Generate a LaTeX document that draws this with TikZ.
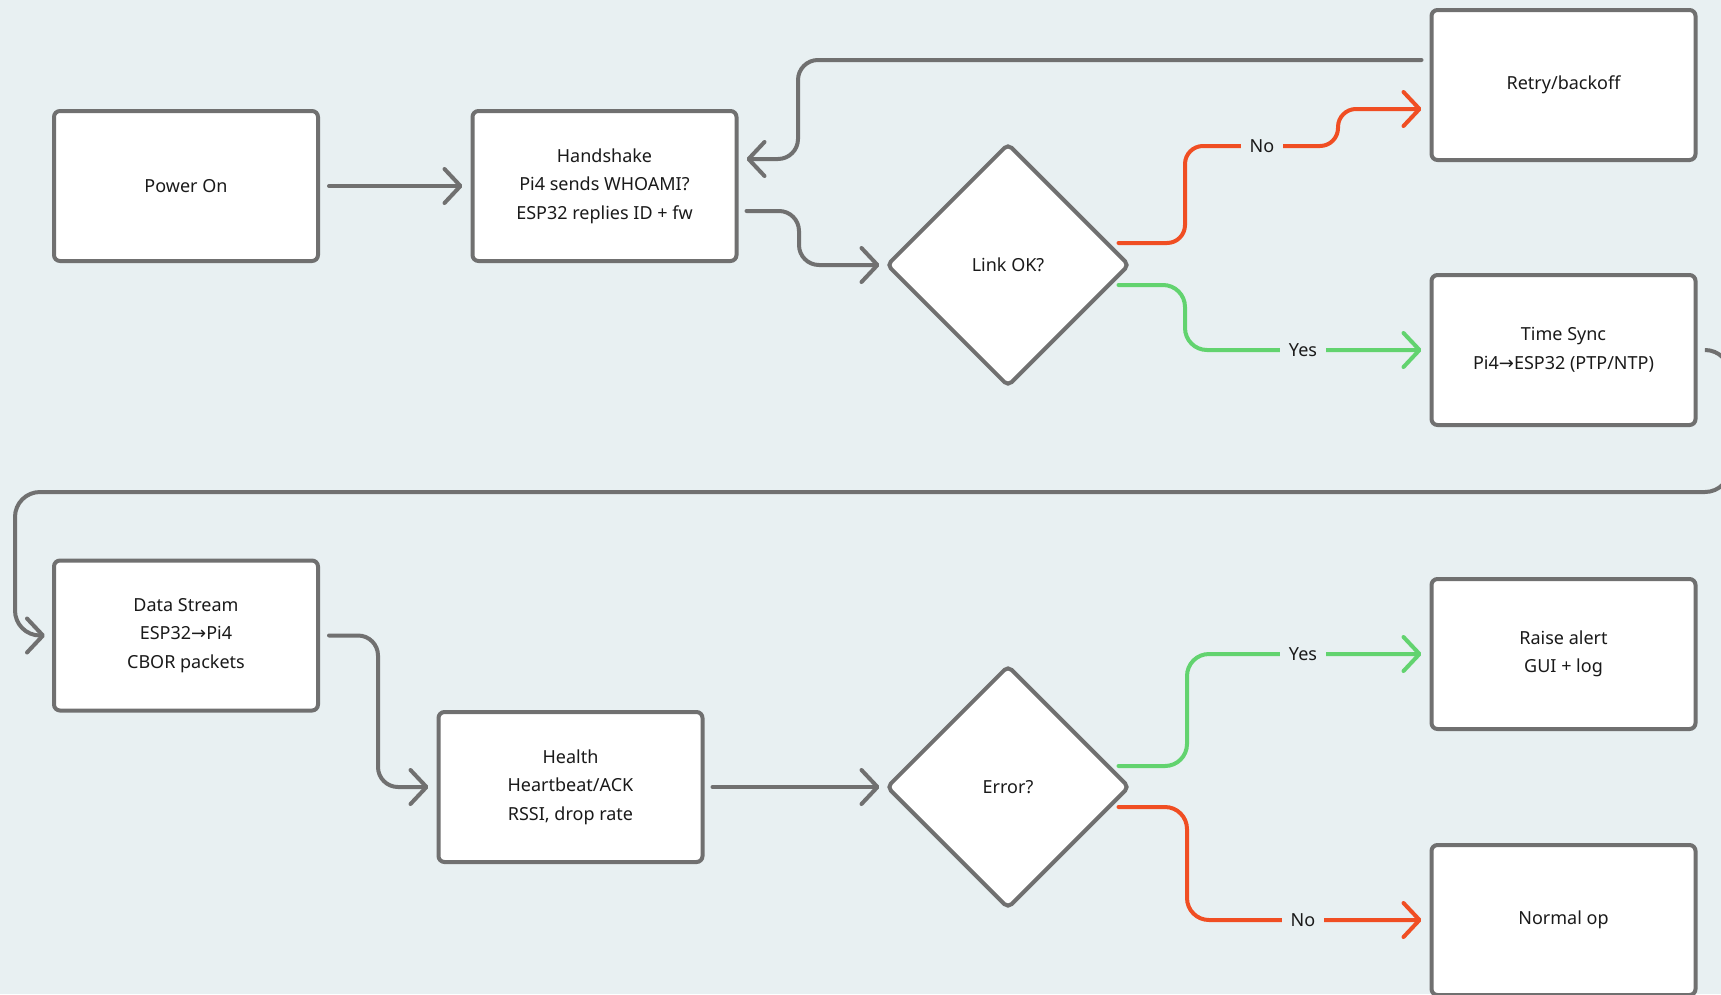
\documentclass[tikz,border=0pt]{standalone}
\usepackage{fontspec}
\setmainfont{Noto Sans}
\newfontfamily\arrfont{DejaVu Sans}
\usetikzlibrary{shapes.geometric,arrows.meta,calc}
\definecolor{bgc}{HTML}{E8F0F2}
\definecolor{edgec}{HTML}{707070}
\definecolor{noc}{HTML}{F04E23}
\definecolor{yesc}{HTML}{62D36F}
\definecolor{txtc}{HTML}{1A1A1A}
\newcommand{\toarr}{{\arrfont\char"2192}}

\begin{document}
\begin{tikzpicture}[x=1pt,y=-1pt,
    box/.style={draw=edgec, line width=4pt, fill=white, rounded corners=6pt,
        minimum width=264pt, minimum height=150pt, align=center, text=txtc,
        font=\fontsize{18}{28.5}\selectfont},
    test/.style={diamond, aspect=1, draw=edgec, line width=4pt, fill=white,
        rounded corners=5pt, minimum width=243pt, minimum height=243pt,
        inner sep=0pt, text=txtc, font=\fontsize{18}{28.5}\selectfont},
    flow/.style={draw=edgec, line width=4pt, line cap=round, rounded corners=20pt,
        -{Straight Barb[length=16pt,width=34pt,round]}},
    noflow/.style={flow, draw=noc, rounded corners=18pt},
    yesflow/.style={flow, draw=yesc, rounded corners=22pt},
    lbl/.style={fill=bgc, text=txtc, inner xsep=9pt, inner ysep=2pt,
        font=\fontsize{18}{22}\selectfont}]

    \fill[bgc] (0,0) rectangle (1721,994);
    \useasboundingbox (0,0) rectangle (1721,994);
    \clip (0,0) rectangle (1721,994);

    % first row
    \node[box] (power) at (186,186) {Power On};
    \node[box] (hand) at (604.5,186) {Handshake\\Pi4 sends WHOAMI?\\ESP32 replies ID + fw};
    \node[test] (link) at (1008,265) {Link OK?};
    \node[box] (retry) at (1563.5,85) {Retry/backoff};
    \node[box] (sync) at (1563.5,350) {Time Sync\\Pi4\toarr ESP32 (PTP/NTP)};

    % second row
    \node[box] (data) at (186,635.5) {Data Stream\\ESP32\toarr Pi4\\CBOR packets};
    \node[box] (health) at (570.5,787) {Health\\Heartbeat/ACK\\RSSI, drop rate};
    \node[test] (err) at (1008,787) {Error?};
    \node[box] (alert) at (1563.5,654) {Raise alert\\GUI + log};
    \node[box] (normal) at (1563.5,920) {Normal op};

    % connectors, first row
    \draw[flow] ($(power.east)+(9,0)$) -- ($(hand.west)+(-8,0)$);
    \draw[flow] ($(hand.east)+(8,25)$) -- (799,211) -- (799,265) -- ($(link.west)+(-5,0)$);
    \draw[flow] ($(retry.west)+(-8,-25)$) -- (798,60) -- (798,159) -- ($(hand.east)+(8,-27)$);
    \draw[noflow] ($(link.east)+(-13,-22)$) -- (1185,243) -- (1185,146) -- (1338,146)
        -- (1338,109) -- ($(retry.west)+(-8,24)$);
    \node[lbl] (nolink) at (1262,146) {No};
    \draw[yesflow] ($(link.east)+(-13,20)$) -- (1185,285) -- (1185,350) -- ($(sync.west)+(-8,0)$);
    \node[lbl] (yeslink) at (1303,350) {Yes};

    % wrap round to the second row
    \draw[flow, rounded corners=25pt] ($(sync.east)+(8,0)$) -- (1730,350) -- (1730,492)
        -- (15,492) -- (15,635.5) -- ($(data.west)+(-7,0)$);

    % connectors, second row
    \draw[flow] ($(data.east)+(9,0)$) -- (378,635.5) -- (378,787) -- ($(health.west)+(-8,0)$);
    \draw[flow] ($(health.east)+(8,0)$) -- ($(err.west)+(-5,0)$);
    \draw[yesflow] ($(err.east)+(-13,-21)$) -- (1187,766) -- (1187,654) -- ($(alert.west)+(-8,0)$);
    \node[lbl] (yeserr) at (1303,654) {Yes};
    \draw[noflow, rounded corners=22pt] ($(err.east)+(-13,20)$) -- (1187,807) -- (1187,920)
        -- ($(normal.west)+(-8,0)$);
    \node[lbl] (noerr) at (1303,920) {No};

\end{tikzpicture}
\end{document}
